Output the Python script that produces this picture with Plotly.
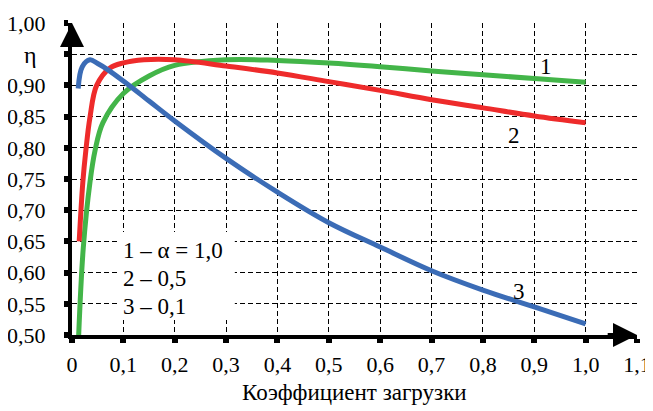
import plotly.graph_objects as go

# Curve 1 (alpha = 1.0), green
x1 = [0.013, 0.022, 0.035, 0.045, 0.06, 0.1, 0.15, 0.2, 0.3, 0.4, 0.5, 0.6, 0.7, 0.8, 0.9, 1.0]
y1 = [0.50, 0.64, 0.745, 0.796, 0.84, 0.887, 0.915, 0.932, 0.941, 0.940, 0.936, 0.930, 0.923, 0.917, 0.911, 0.905]
# Curve 2 (alpha = 0.5), red
x2 = [0.014, 0.021, 0.027, 0.035, 0.048, 0.074, 0.1, 0.14, 0.2, 0.3, 0.4, 0.5, 0.6, 0.7, 0.8, 0.9, 1.0]
y2 = [0.65, 0.744, 0.796, 0.849, 0.90, 0.928, 0.936, 0.941, 0.941, 0.931, 0.920, 0.906, 0.892, 0.877, 0.864, 0.851, 0.840]
# Curve 3 (alpha = 0.1), blue
x3 = [0.012, 0.02, 0.035, 0.05, 0.07, 0.1, 0.15, 0.2, 0.3, 0.4, 0.5, 0.6, 0.7, 0.8, 0.9, 1.0]
y3 = [0.895, 0.93, 0.941, 0.935, 0.925, 0.907, 0.875, 0.843, 0.783, 0.729, 0.680, 0.641, 0.603, 0.572, 0.545, 0.518]

x_ticks = [0, 0.1, 0.2, 0.3, 0.4, 0.5, 0.6, 0.7, 0.8, 0.9, 1.0, 1.1]
x_ticktext = ["0", "0,1", "0,2", "0,3", "0,4", "0,5", "0,6", "0,7", "0,8", "0,9", "1,0", "1,1"]
y_ticks = [0.50, 0.55, 0.60, 0.65, 0.70, 0.75, 0.80, 0.85, 0.90, 0.95, 1.00]
y_ticktext = ["0,50", "0,55", "0,60", "0,65", "0,70", "0,75", "0,80", "0,85", "0,90", "", "1,00"]

legend_lines = ["1 – α = 1,0", "2 – 0,5", "3 – 0,1"]
curve_labels = ["1", "2", "3"]

FONT = "Liberation Serif"

fig = go.Figure()
fig.add_trace(go.Scatter(x=x1, y=y1, mode="lines", line=dict(color="#43b549", width=5, shape="spline")))
fig.add_trace(go.Scatter(x=x2, y=y2, mode="lines", line=dict(color="#ee2b2b", width=5, shape="spline")))
fig.add_trace(go.Scatter(x=x3, y=y3, mode="lines", line=dict(color="#3b6cb6", width=5, shape="spline")))

# page body has an 8px margin, so the figure is 8px smaller and margins shifted
fig.update_layout(
    template="none",
    width=645, height=403,
    margin=dict(l=64, r=16, t=15, b=76, autoexpand=False),
    paper_bgcolor="white", plot_bgcolor="white",
    showlegend=False,
    font=dict(family=FONT, color="black"),
)
fig.update_xaxes(
    range=[0, 1.1], tickvals=x_ticks, ticktext=x_ticktext, automargin=False,
    showgrid=True, gridcolor="black", gridwidth=1, griddash="5px,3px",
    showline=True, linecolor="black", linewidth=4,
    ticks="outside", ticklen=4, tickwidth=6, tickcolor="black", ticklabelstandoff=3,
    zeroline=False, tickfont=dict(family=FONT, size=22, color="black"),
)
fig.update_yaxes(
    range=[0.5, 1.0], tickvals=y_ticks, ticktext=y_ticktext, automargin=False,
    showgrid=True, gridcolor="black", gridwidth=1, griddash="5px,3px",
    showline=True, linecolor="black", linewidth=4,
    ticks="outside", ticklen=4, tickwidth=6, tickcolor="black", ticklabelstandoff=14,
    zeroline=False, tickfont=dict(family=FONT, size=22, color="black"),
)

# white box behind legend text
fig.add_shape(type="rect", xref="x", yref="y", x0=0.093, x1=0.317, y0=0.524, y1=0.665,
              fillcolor="white", line=dict(width=0), layer="between")

# legend text
for txt, yy in zip(legend_lines, [0.636, 0.591, 0.545]):
    fig.add_annotation(x=0.095, y=yy, xref="x", yref="y", text=txt, showarrow=False,
                       xanchor="left", yanchor="middle", font=dict(family=FONT, size=23, color="black"))

# curve labels
for txt, xx, yy in zip(curve_labels, [0.923, 0.861, 0.871], [0.9295, 0.8205, 0.569]):
    fig.add_annotation(x=xx, y=yy, xref="x", yref="y", text=txt, showarrow=False,
                       xanchor="center", yanchor="middle", font=dict(family=FONT, size=23, color="black"))

# eta label
fig.add_annotation(x=-0.0726, y=0.948, xref="paper", yref="y", text="η", showarrow=False,
                   xanchor="center", yanchor="middle", font=dict(family=FONT, size=24, color="black"))

# x title
fig.add_annotation(x=0.5, y=-0.183, xref="paper", yref="paper", text="Коэффициент загрузки",
                   showarrow=False, xanchor="center", yanchor="middle",
                   font=dict(family=FONT, size=23, color="black"))

# axis arrows
fig.add_annotation(x=0, y=1.0, ax=0, ay=0.96, xref="x", yref="y", axref="x", ayref="y",
                   text="", showarrow=True, arrowhead=2, arrowsize=1.2, arrowwidth=4, arrowcolor="black", standoff=0)
fig.add_annotation(x=1.1, y=0.5, ax=1.04, ay=0.5, xref="x", yref="y", axref="x", ayref="y",
                   text="", showarrow=True, arrowhead=2, arrowsize=1.2, arrowwidth=4, arrowcolor="black", standoff=0)

fig.write_html("out.html")
